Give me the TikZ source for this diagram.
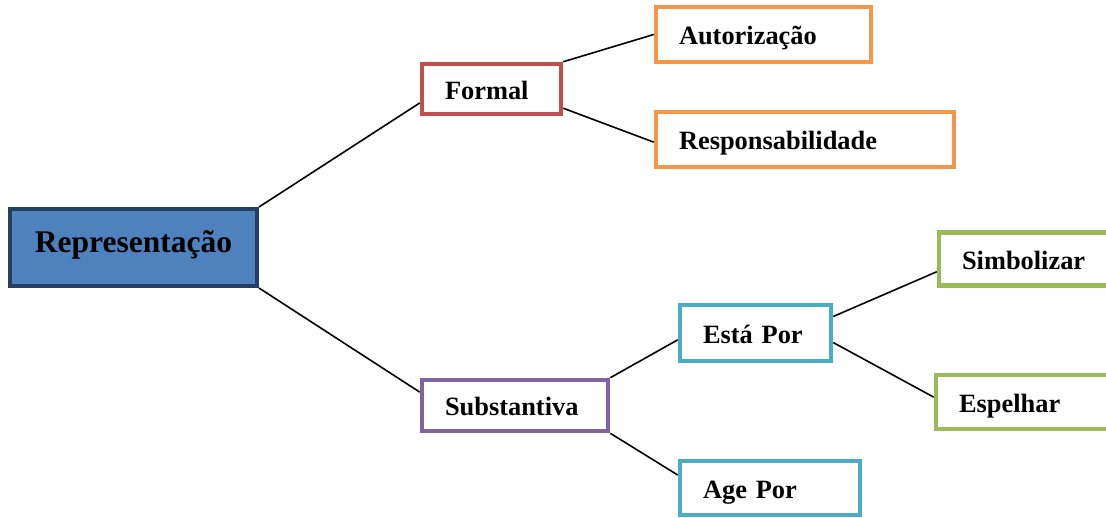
\documentclass[tikz,border=0pt]{standalone}
\usepackage{fontspec}
\setmainfont{Liberation Serif}
\definecolor{repfill}{HTML}{4F81BD}
\definecolor{repline}{HTML}{243F60}
\definecolor{cred}{HTML}{C0504D}
\definecolor{corange}{HTML}{F79646}
\definecolor{cpurple}{HTML}{8064A2}
\definecolor{ccyan}{HTML}{4BACC6}
\definecolor{cgreen}{HTML}{9BBB59}
\tikzset{
  bx/.style={draw=#1, line width=4.5pt, fill=white, rectangle, inner xsep=23pt, inner ysep=0pt,
    text height=20pt, text depth=0pt, align=left,
    font=\fontsize{26.4}{30}\selectfont\bfseries},
  link/.style={draw=black, line width=1.6pt}
}
\begin{document}
\begin{tikzpicture}[x=1pt,y=-1pt]
\clip (0,0) rectangle (1106,517);
\fill[white] (0,0) rectangle (1106,517);
\node[draw=repline, fill=repfill, line width=4pt, rectangle, minimum width=247pt, minimum height=77pt,
  inner sep=0pt, text height=9.6pt, text depth=0pt, align=center,
  font=\fontsize{31.5}{36}\selectfont\bfseries] (rep) at (133.5,247.5) {Representação};
\node[bx=cred, minimum width=139pt, minimum height=50pt, text width=93pt] (formal) at (491.5,89) {Formal};
\node[bx=corange, minimum width=215pt, minimum height=55pt, text width=169pt] (autoriz) at (763.5,34.5) {Autorização};
\node[bx=corange, minimum width=298pt, minimum height=55pt, text width=252pt] (resp) at (805,139.5) {Responsabilidade};
\node[bx=cpurple, minimum width=186pt, minimum height=51pt, text width=140pt] (sub) at (515,405.5) {Substantiva};
\node[bx=ccyan, minimum width=151pt, minimum height=56pt, text width=105pt] (esta) at (755.5,333) {Está Por};
\node[bx=ccyan, minimum width=180pt, minimum height=54pt, text width=134pt] (age) at (770,488) {Age Por};
\node[bx=cgreen, minimum width=177pt, minimum height=53pt, text width=131pt] (simb) at (1027.5,259) {Simbolizar};
\node[bx=cgreen, minimum width=180pt, minimum height=54pt, text width=134pt] (esp) at (1026,402) {Espelhar};
\draw[link] (rep.north east) -- (formal.191);
\draw[link] (rep.south east) -- (sub.172);
\draw[link] (formal.north east) -- (autoriz.west);
\draw[link] (formal.345) -- (resp.181);
\draw[link] (sub.north east) -- (esta.185);
\draw[link] (sub.south east) -- (age.172);
\draw[link] (esta.12) -- (simb.188);
\draw[link] (esta.353) -- (esp.177);
\end{tikzpicture}
\end{document}
